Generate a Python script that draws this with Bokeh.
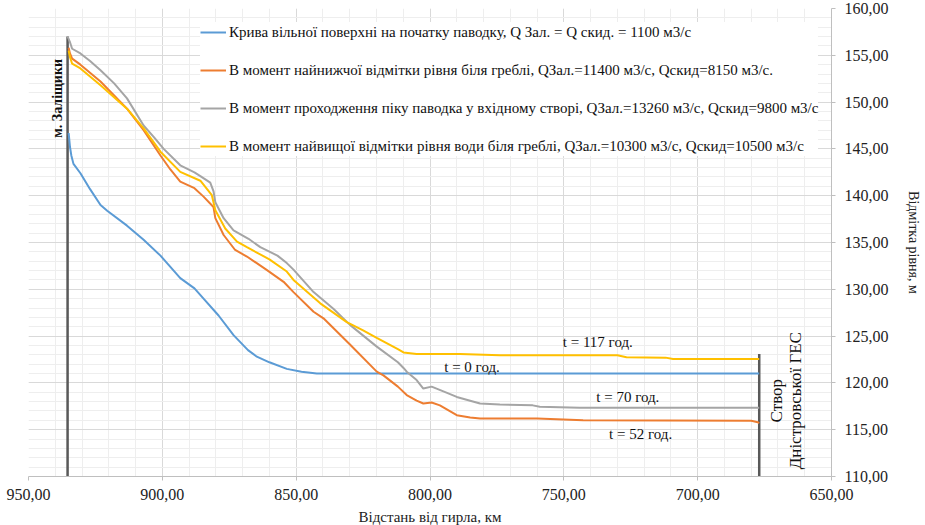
import math
from bokeh.plotting import figure
from bokeh.models import Range1d, CustomJSTickFormatter, SingleIntervalTicker
from bokeh.core.properties import value
from bokeh.embed import file_html
from bokeh.resources import INLINE

# ---------------- data ----------------
blue_km = [935.0, 934.5, 934.0, 933.2, 930.6, 927.0, 923.1, 920.6, 913.2, 907.0, 900.7, 893.3,
           888.0, 884.6, 879.0, 873.4, 868.0, 864.7, 860.0, 853.5, 848.0, 842.3, 800.0, 677.0]
blue_h = [146.7, 145.2, 144.3, 143.4, 142.4, 140.7, 139.0, 138.4, 136.8, 135.3, 133.6, 131.2,
          130.1, 129.0, 127.2, 125.1, 123.5, 122.8, 122.2, 121.5, 121.2, 121.0, 121.0, 121.0]

orange_km = [935.0, 934.5, 933.7, 930.6, 923.1, 913.2, 907.0, 900.7, 897.0, 893.3, 888.0, 884.6,
             880.9, 880.2, 877.1, 872.8, 868.4, 860.9, 854.7, 851.0, 843.5, 839.8, 829.9, 819.9,
             817.4, 812.0, 808.7, 805.0, 802.5, 799.4, 796.3, 790.0, 785.0, 781.3, 760.0, 742.8,
             680.0, 677.5, 677.0]
orange_h = [155.8, 155.2, 154.65, 154.0, 152.2, 149.3, 147.0, 144.3, 142.8, 141.5, 140.8, 139.9,
            138.8, 137.6, 135.8, 134.2, 133.5, 132.05, 130.8, 129.7, 127.6, 126.9, 124.1, 121.2,
            120.8, 119.6, 118.7, 118.1, 117.8, 117.9, 117.6, 116.55, 116.3, 116.2, 116.2, 116.0,
            115.95, 115.8, 115.7]

gray_km = [935.4, 934.5, 933.7, 930.6, 927.0, 923.1, 918.0, 913.2, 907.0, 903.0, 899.5, 893.3,
           888.0, 885.8, 882.1, 880.9, 880.2, 877.1, 873.4, 867.8, 863.4, 857.0, 853.5, 851.0,
           843.5, 836.0, 829.9, 820.0, 812.0, 809.9, 808.7, 805.0, 802.5, 799.4, 795.0, 790.0,
           785.0, 781.3, 773.9, 761.6, 759.0, 744.0, 677.0]
gray_h = [157.0, 156.4, 155.7, 155.2, 154.4, 153.4, 152.0, 150.4, 147.5, 146.2, 145.0, 143.25,
          142.5, 142.1, 141.4, 140.5, 139.3, 137.6, 136.3, 135.4, 134.5, 133.6, 132.8, 132.1,
          129.7, 127.9, 126.2, 123.9, 122.2, 121.6, 121.2, 120.3, 119.4, 119.6, 119.1, 118.5,
          118.1, 117.8, 117.7, 117.6, 117.45, 117.35, 117.35]

yellow_km = [935.0, 934.5, 933.7, 930.6, 923.1, 913.2, 907.0, 900.7, 893.3, 885.8, 881.5, 880.2,
             876.5, 872.1, 868.4, 860.0, 853.5, 851.0, 841.0, 831.1, 825.0, 819.9, 812.0, 809.9,
             805.0, 788.8, 773.9, 730.0, 726.6, 712.0, 709.2, 677.0]
yellow_h = [155.5, 154.8, 154.1, 153.6, 151.8, 149.3, 147.2, 144.7, 142.55, 141.6, 140.05, 138.45,
            136.5, 135.1, 134.5, 133.2, 131.9, 131.0, 128.5, 126.5, 125.6, 124.8, 123.6, 123.25,
            123.1, 123.1, 122.95, 122.95, 122.75, 122.7, 122.55, 122.55]

series_names = [
    "Крива вільної поверхні на початку паводку, Q Зал. = Q скид. = 1100 м3/с",
    "В момент найнижчої відмітки рівня біля греблі, QЗал.=11400 м3/с, Qскид=8150 м3/с.",
    "В момент проходження піку паводка у вхідному створі, QЗал.=13260 м3/с, Qскид=9800 м3/с",
    "В момент найвищої відмітки рівня води біля греблі, QЗал.=10300 м3/с, Qскид=10500 м3/с",
]

# marker lines (station sections)
zal_km = [935.4, 935.4]
zal_h = [110.0, 157.0]
ges_km = [677.0, 677.0]
ges_h = [110.0, 123.1]

# time labels
t_labels = ["t = 117 год.", "t = 0 год.", "t = 70 год.", "t = 52 год."]
t_km = [737.3, 784.3, 726.1, 721.3]
t_h = [124.4, 121.75, 118.5, 114.5]

# section labels
zal_label = ["м. Заліщики"]
zal_label_km = [939.2]
zal_label_h = [150.4]
ges_label = ["Створ\nДністровської ГЕС"]
ges_label_km = [667.0]
ges_label_h = [118.1]

x_ticks_interval = 50
y_ticks_interval = 5

SERIF = "'Liberation Serif'"

p = figure(frame_width=803, frame_height=468,
           x_range=Range1d(950, 650), y_range=Range1d(110, 160),
           output_backend="svg", toolbar_location=None, y_axis_location="right",
           min_border_left=28, min_border_top=8, min_border_right=4, min_border_bottom=4)
p.outline_line_color = None
p.background_fill_color = "white"

p.xaxis.ticker = SingleIntervalTicker(interval=x_ticks_interval, num_minor_ticks=5)
p.yaxis.ticker = SingleIntervalTicker(interval=y_ticks_interval, num_minor_ticks=5)
fmt = CustomJSTickFormatter(code="return tick.toFixed(2).replace('.', ',');")
p.xaxis.formatter = fmt
p.yaxis.formatter = fmt

for g in (p.xgrid, p.ygrid):
    g.grid_line_color = "#d9d9d9"
    g.grid_line_width = 1
    g.minor_grid_line_color = "#eeeeee"
    g.minor_grid_line_width = 1

for ax in (p.xaxis, p.yaxis):
    ax.axis_line_color = "#bfbfbf"
    ax.major_tick_line_color = "#bfbfbf"
    ax.minor_tick_line_color = None
    ax.major_tick_in = 0
    ax.major_tick_out = 4
    ax.major_label_text_font = SERIF
    ax.major_label_text_font_size = "16px"
    ax.major_label_text_color = "#222222"
    ax.axis_label_text_font = SERIF
    ax.axis_label_text_font_style = "normal"
    ax.axis_label_text_color = "#222222"

p.xaxis.axis_label = "Відстань від гирла, км"
p.yaxis.axis_label = "Відмітка рівня, м"
p.xaxis.axis_label_text_font_size = "15px"
p.yaxis.axis_label_text_font_size = "14px"
p.xaxis.major_label_standoff = 8
p.yaxis.major_label_standoff = 9
p.xaxis.axis_label_standoff = 6
p.yaxis.axis_label_standoff = 14

colors = ["#5B9BD5", "#ED7D31", "#A5A5A5", "#FFC000"]
data = [(blue_km, blue_h), (orange_km, orange_h), (gray_km, gray_h), (yellow_km, yellow_h)]

p.line(zal_km, zal_h, line_color="#595959", line_width=2.5)
p.line(ges_km, ges_h, line_color="#595959", line_width=2.5)

for (xs, ys), c, name in zip(data, colors, series_names):
    p.line(xs, ys, line_color=c, line_width=2, legend_label=name)

p.text(x=t_km, y=t_h, text=t_labels, text_font=value(SERIF), text_font_size="15px",
       text_align="center", text_baseline="middle", text_color="#111111")
p.text(x=zal_label_km, y=zal_label_h, text=zal_label, text_font=value(SERIF),
       text_font_size="14px", text_font_style="bold", text_align="center",
       text_baseline="middle", text_color="#111111", angle=math.pi / 2)
p.text(x=ges_label_km, y=ges_label_h, text=ges_label, text_font=value(SERIF),
       text_font_size="17px", text_font_style="normal", text_align="center",
       text_baseline="middle", text_color="#111111", angle=math.pi / 2,
       text_line_height=1.0)

lg = p.legend[0]
lg.location = (172, 320)
lg.label_text_font = SERIF
lg.label_text_font_size = "15px"
lg.label_text_color = "#111111"
lg.glyph_width = 26
lg.glyph_height = 20
lg.label_height = 20
lg.spacing = 18
lg.padding = 8
lg.margin = 0
lg.label_standoff = 3
lg.border_line_color = None
lg.background_fill_color = "white"
lg.background_fill_alpha = 1.0

open("out.html", "w").write(file_html(p, INLINE))
